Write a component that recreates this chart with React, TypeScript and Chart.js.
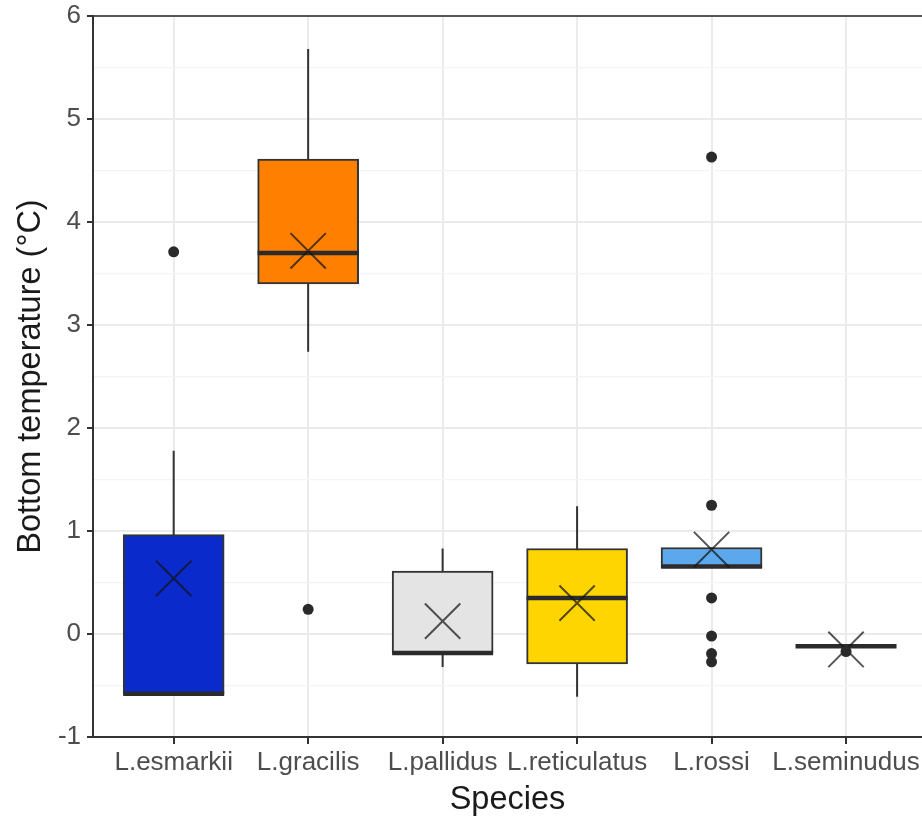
import React, { useEffect, useRef } from "react";
import { Chart, registerables } from "chart.js";

Chart.register(...registerables);

// Bottom temperature summaries per species
const species = ["L.esmarkii", "L.gracilis", "L.pallidus", "L.reticulatus", "L.rossi", "L.seminudus"];
const fills = ["#0B2ACB", "#FF7F00", "#E4E4E4", "#FFD500", "#5CA8EC", "#FFFFFF"];
const whiskerLow = [-0.58, 2.74, -0.32, -0.61, 0.645, -0.12];
const q1 = [-0.58, 3.4, -0.185, -0.29, 0.645, -0.12];
const median = [-0.58, 3.7, -0.185, 0.35, 0.655, -0.12];
const q3 = [0.965, 4.61, 0.61, 0.83, 0.84, -0.12];
const whiskerHigh = [1.78, 5.68, 0.83, 1.24, 0.84, -0.12];
const means = [0.54, 3.72, 0.125, 0.3, 0.82, -0.15];
const outliers = [[3.71], [0.24], [], [], [4.63, 1.25, 0.35, -0.02, -0.19, -0.27], [-0.17]];
const yTickValues = [-1, -0.5, 0, 0.5, 1, 1.5, 2, 2.5, 3, 3.5, 4, 4.5, 5, 5.5, 6];

const FONT = "'Liberation Sans', Arial, Helvetica, sans-serif";
const BOX_PX = 101;
const X_MIN = -0.6;
const X_MAX = 5.565;
const W = 922;
const H = 816;

export default function App() {
  const ref = useRef<HTMLCanvasElement | null>(null);

  useEffect(() => {
    if (!ref.current) return;

    const whiskerPts: any[] = [];
    species.forEach((_, i) => {
      whiskerPts.push({ x: i, y: whiskerLow[i] }, { x: i, y: whiskerHigh[i] }, { x: i, y: null });
    });
    const outlierPts: any[] = [];
    outliers.forEach((vals, i) => vals.forEach((v) => outlierPts.push({ x: i, y: v })));

    const isMajor = (v: number) => Number.isInteger(v);

    const chart = new Chart(ref.current, {
      type: "bar",
      data: {
        datasets: [
          {
            type: "line",
            data: whiskerPts,
            borderColor: "#333333",
            borderWidth: 2,
            pointRadius: 0,
            spanGaps: false,
            order: 5,
          } as any,
          {
            type: "bar",
            data: species.map((_, i) => ({ x: i, y: [q1[i], q3[i]] })),
            backgroundColor: fills,
            borderColor: "#333333",
            borderWidth: 2,
            borderSkipped: false,
            barThickness: BOX_PX,
            grouped: false,
            order: 4,
          } as any,
          {
            type: "scatter",
            data: species.map((_, i) => ({ x: i, y: median[i] })),
            pointStyle: "line",
            pointRadius: BOX_PX / 2,
            pointBorderColor: "#2B2B2B",
            pointBorderWidth: 4.5,
            order: 3,
          } as any,
          {
            type: "scatter",
            data: species.map((_, i) => ({ x: i, y: means[i] })),
            pointStyle: "crossRot",
            pointRadius: 25,
            pointBorderColor: "rgba(20,20,20,0.72)",
            pointBorderWidth: 2,
            order: 2,
          } as any,
          {
            type: "scatter",
            data: outlierPts,
            pointStyle: "circle",
            pointRadius: 5.5,
            pointBackgroundColor: "#2A2A2A",
            pointBorderWidth: 0,
            order: 1,
          } as any,
        ],
      },
      options: {
        responsive: false,
        animation: false,
        layout: { autoPadding: false, padding: { top: 16, right: 0, left: 0, bottom: 0 } },
        plugins: { legend: { display: false }, tooltip: { enabled: false } },
        scales: {
          x: {
            type: "linear",
            offset: false,
            min: X_MIN,
            max: X_MAX,
            afterBuildTicks: (s: any) => {
              s.ticks = species.map((_, i) => ({ value: i }));
            },
            afterFit: (s: any) => {
              s.height = 79;
              s.paddingLeft = 0;
              s.paddingRight = 0;
            },
            ticks: {
              callback: (v: any) => species[v] ?? "",
              font: { family: FONT, size: 26 },
              color: "#4D4D4D",
              padding: 3,
              maxRotation: 0,
              autoSkip: false,
            },
            grid: { offset: false, color: "#EBEBEB", lineWidth: 2, tickColor: "#333333", tickLength: 7 },
            border: { display: true, color: "#333333", width: 2 },
            title: {
              display: true,
              text: "Species",
              font: { family: FONT, size: 32.5 },
              color: "#1A1A1A",
              padding: { top: 0, bottom: -3.5 },
            },
          },
          xTop: {
            type: "linear",
            position: "top",
            offset: false,
            min: X_MIN,
            max: X_MAX,
            afterFit: (s: any) => {
              s.height = 0;
              s.paddingLeft = 0;
              s.paddingRight = 0;
            },
            ticks: { display: false },
            grid: { display: false, drawTicks: false },
            border: { display: true, color: "#555555", width: 2 },
          },
          y: {
            type: "linear",
            min: -1,
            max: 6,
            afterBuildTicks: (s: any) => {
              s.ticks = yTickValues.map((v) => ({ value: v }));
            },
            afterFit: (s: any) => {
              s.width = 93;
              s.paddingTop = 0;
              s.paddingBottom = 0;
            },
            ticks: {
              callback: (v: any) => (isMajor(v) ? String(v) : ""),
              font: { family: FONT, size: 26 },
              color: "#4D4D4D",
              padding: 6,
            },
            grid: {
              color: (c: any) => (isMajor(c.tick?.value) ? "#EBEBEB" : "#F4F4F4"),
              lineWidth: (c: any) => (isMajor(c.tick?.value) ? 2 : 1.2),
              tickColor: (c: any) => (isMajor(c.tick?.value) ? "#333333" : "rgba(0,0,0,0)"),
              tickLength: 6,
            },
            border: { display: true, color: "#333333", width: 2 },
            title: {
              display: true,
              text: "Bottom temperature (°C)",
              font: { family: FONT, size: 32.5 },
              color: "#1A1A1A",
              padding: { top: 12, bottom: 0 },
            },
          },
        },
      } as any,
    });

    return () => chart.destroy();
  }, []);

  // pinned to the window's corner so the body margin does not offset it
  return (
    <div style={{ position: "fixed", left: 0, top: 0, width: W, height: H }}>
      <canvas ref={ref} width={W} height={H} style={{ display: "block" }} />
    </div>
  );
}
